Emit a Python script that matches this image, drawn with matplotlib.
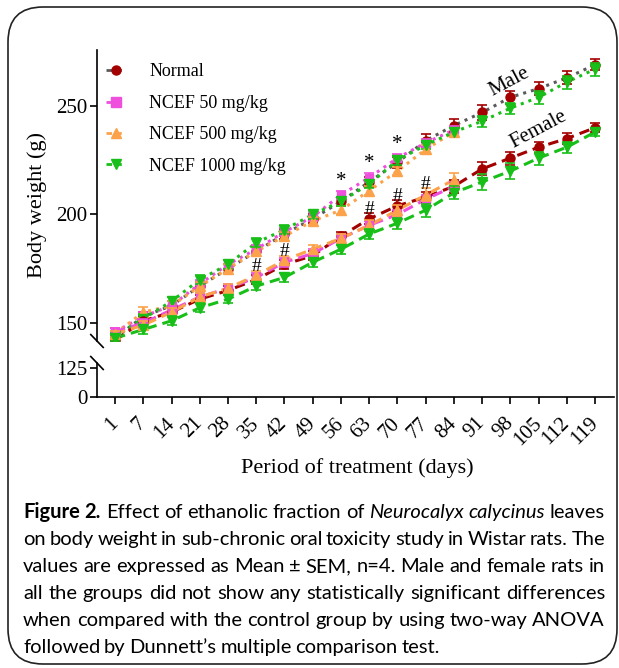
import matplotlib
matplotlib.use("Agg")
import matplotlib.pyplot as plt
import numpy as np
from matplotlib.lines import Line2D
from matplotlib.patches import FancyBboxPatch
from matplotlib.transforms import IdentityTransform

# ---- data ----
days = [1, 7, 14, 21, 28, 35, 42, 49, 56, 63, 70, 77, 84, 91, 98, 105, 112, 119]

male_normal = [143, 153, 158, 167, 175, 183, 191, 198, 206, 215, 224, 234, 241, 247, 254, 258, 263, 269]
male_normal_err = [1.5, 2, 2, 2, 2, 2, 2.5, 2, 2, 2.5, 2.5, 3, 3, 3.5, 3, 3, 3, 2.5]
male_50 = [146, 153, 158, 168, 177, 184, 192, 199, 209, 217, 226, 233, 239]
male_50_err = [1.5, 2, 2, 2, 2, 2, 2, 2, 2, 2, 2, 2, 2]
male_500 = [145, 155, 158, 167, 175, 183, 190, 197, 202, 211, 220, 230, 238]
male_500_err = [1.5, 2.5, 2, 2, 2, 2, 2, 2, 2, 2, 2, 2, 2]
male_1000 = [144, 152, 160, 170, 177, 187, 193, 200, 206, 214, 225, 232, 238, 243, 249, 254, 261, 267]
male_1000_err = [1.5, 2, 2, 2, 2, 2, 2, 2, 2, 2, 2, 2, 2, 2.5, 2.5, 3, 3, 3]

female_normal = [142, 151, 155, 161, 165, 170, 177, 181, 190, 198, 204, 208, 213, 221, 226, 231, 235, 240]
female_normal_err = [1.5, 2, 2, 2, 2, 2, 2, 2, 2, 2.5, 2.5, 2.5, 3, 3, 3, 2.5, 2.5, 2]
female_50 = [146, 150, 156, 162, 166, 171, 178, 182, 189, 195, 200, 207, 213]
female_50_err = [1.5, 2, 2, 2, 2, 2, 2, 2, 2, 2, 2, 2, 2]
female_500 = [145, 149, 155, 162, 166, 172, 179, 184, 189, 195, 202, 209, 216]
female_500_err = [1.5, 2, 2, 2, 2, 2, 2, 2, 2, 2.5, 2.5, 3, 3]
female_1000 = [143, 147, 151, 157, 161, 167, 171, 178, 184, 191, 196, 202, 210, 215, 220, 226, 231, 238]
female_1000_err = [1.5, 2, 2, 2, 2, 2, 2, 2, 2, 2.5, 2.5, 3, 3, 3.5, 3.5, 3, 2.5, 2]

group_labels = ["Normal", "NCEF 50 mg/kg", "NCEF 500 mg/kg", "NCEF 1000 mg/kg"]
star_days = [56, 63, 70]          # '*' above male NCEF 50
hash_days = [35, 42, 63, 70, 77]  # '#' above female groups

caption_lines = [
    [("Figure", "b"), ("2.", "b"), ("Effect", ""), ("of", ""), ("ethanolic", ""), ("fraction", ""),
     ("of", ""), ("Neurocalyx", "i"), ("calycinus", "i"), ("leaves", "")],
    "on body weight in sub-chronic oral toxicity study in Wistar rats. The",
    "values are expressed as Mean \u00b1 SEM, n=4. Male and female rats in",
    "all the groups did not show any statistically significant differences",
    "when compared with the control group by using two-way ANOVA",
    "followed by Dunnett\u2019s multiple comparison test.",
]

# ---- styles ----
SERIF = "Liberation Serif"
CAP_FONT = "Lato"
c_red, c_grey = "#a30000", "#5a5a5a"
c_pink, c_orange, c_green = "#ee4fdc", "#fba24a", "#19bf19"

W, H = 619, 668
fig = plt.figure(figsize=(W / 100, H / 100), dpi=100)
plt.rcParams["font.family"] = SERIF


def fx(px):
    return px / W


def fy(py):
    return 1 - py / H


x_left, x_right = 97, 614
ax = fig.add_axes([fx(x_left), fy(341), fx(x_right - x_left), (341 - 50) / H])
axl = fig.add_axes([fx(x_left), fy(397), fx(x_right - x_left), (397 - 363) / H])

n = len(days)
xlim = (-0.64, n - 1 + 0.67)
for a in (ax, axl):
    a.set_xlim(*xlim)
    for s in ("top", "right"):
        a.spines[s].set_visible(False)
    a.spines["left"].set_linewidth(1.2)
    a.spines["bottom"].set_linewidth(1.2)
    a.tick_params(width=1.2, length=5, labelsize=15, pad=2)

ax.set_ylim(141.7, 275.8)
ax.set_yticks([150, 200, 250])
ax.spines["bottom"].set_visible(False)
ax.set_xticks([])

axl.set_ylim(0, 146.6)
axl.set_yticks([0, 125])
axl.set_xticks(np.arange(n))
axl.set_xticklabels([str(d) for d in days], rotation=45, ha="right",
                    va="center", rotation_mode="anchor")
axl.tick_params(axis="x", pad=12)

# break marks on the y axis
for a, yy, dy in ((ax, 0.0, 0.022), (axl, 1.0, 0.19)):
    a.plot([-0.012, 0.012], [yy + dy, yy - dy],
           transform=a.transAxes, color="black", lw=1.2, clip_on=False)

dash_f = (0, (3.4, 2.0))
series = [
    (male_normal, male_normal_err, c_red, c_grey, "o", ":"),
    (male_50, male_50_err, c_pink, c_pink, "s", ":"),
    (male_500, male_500_err, c_orange, c_orange, "^", ":"),
    (male_1000, male_1000_err, c_green, c_green, "v", ":"),
    (female_normal, female_normal_err, c_red, c_red, "o", dash_f),
    (female_50, female_50_err, c_pink, c_pink, "s", dash_f),
    (female_500, female_500_err, c_orange, c_orange, "^", dash_f),
    (female_1000, female_1000_err, c_green, c_green, "v", dash_f),
]
order = [0, 4, 1, 5, 2, 6, 3, 7]
for k in order:
    vals, err, mc, lc, mk, ls = series[k]
    xs = np.arange(len(vals))
    ax.plot(xs, vals, color=lc, linestyle=ls, lw=2.2, zorder=2 + k * 0.1)
    ax.errorbar(xs, vals, yerr=err, fmt=mk, color=mc, ms=6.5 if mk != "s" else 6,
                mec=mc, mfc=mc, elinewidth=1.2, capsize=3.5, capthick=1.2,
                zorder=3 + k * 0.1)

# significance marks
for d in star_days:
    i = days.index(d)
    top = male_50[i] + male_50_err[i]
    ax.annotate("*", (i, top), xytext=(0, 0), textcoords="offset points",
                ha="center", va="bottom", fontsize=15, zorder=10)
for d in hash_days:
    i = days.index(d)
    top = max(v[i] + e[i] for v, e in ((female_normal, female_normal_err), (female_50, female_50_err),
                                      (female_500, female_500_err), (female_1000, female_1000_err)))
    ax.annotate("#", (i, top), xytext=(0, -3), textcoords="offset points",
                ha="center", va="bottom", fontsize=14, zorder=10)

ax.text(13.96, 261, "Male", rotation=28, ha="center", va="center",
        rotation_mode="anchor", fontsize=15)
ax.text(14.98, 239, "Female", rotation=28, ha="center", va="center",
        rotation_mode="anchor", fontsize=15)

# legend
handles = []
for lab, mc, lc, mk in zip(group_labels, [c_red, c_pink, c_orange, c_green],
                           [c_grey, c_pink, c_orange, c_green], ["o", "s", "^", "v"]):
    handles.append(Line2D([], [], color=lc, lw=2, linestyle=(0, (2, 2.5, 1, 2.5)),
                          marker=mk, ms=6.5, mfc=mc, mec=mc, label=lab))
ax.legend(handles=handles, loc="upper left", bbox_to_anchor=(0.0, 0.985),
          frameon=False, fontsize=13, handlelength=1.15, handletextpad=1.25,
          labelspacing=0.8, borderaxespad=0.3, borderpad=0.2)

fig.text(fx(37), fy(205), "Body weight (g)", rotation=90, ha="center", va="center", fontsize=16)
fig.text(fx(357), fy(468), "Period of treatment (days)", ha="center", va="center", fontsize=16)

# rounded frame
frame = FancyBboxPatch((8 / 100, (H - 664) / 100), (617 - 8) / 100, (664 - 7) / 100,
                       boxstyle="round,pad=0,rounding_size=0.35",
                       transform=fig.dpi_scale_trans, fill=False, lw=1.2,
                       ec="#222222", clip_on=False)
fig.add_artist(frame)

# caption, justified word by word
renderer = fig.canvas.get_renderer()
cap_x0, cap_x1 = 23, 605
base_size = 13.0
space_em = 0.19


def make_words(line):
    if isinstance(line, str):
        return [(w, "") for w in line.split(" ")]
    return line


def word_artists(words, size):
    arts = []
    for w, st in words:
        kw = dict(fontsize=size, family=CAP_FONT, ha="left", va="baseline",
                  transform=IdentityTransform())
        if st == "b":
            kw["weight"] = "bold"
        if st == "i":
            kw["style"] = "italic"
        arts.append(fig.text(0, 0, w, **kw))
    return arts


# find size so the widest justified line fits the text block
probe = []
for line in caption_lines[:-1]:
    arts = word_artists(make_words(line), base_size)
    wsum = sum(a.get_window_extent(renderer).width for a in arts)
    probe.append(wsum + (len(arts) - 1) * base_size * space_em * 100 / 72)
    for a in arts:
        a.remove()
size = base_size * (cap_x1 - cap_x0) / max(probe)

baseline0 = H - 518
for li, line in enumerate(caption_lines):
    words = make_words(line)
    arts = word_artists(words, size)
    widths = [a.get_window_extent(renderer).width for a in arts]
    if li < len(caption_lines) - 1:
        gap = (cap_x1 - cap_x0 - sum(widths)) / (len(arts) - 1)
    else:
        gap = size * space_em * 100 / 72
    x = cap_x0
    y = baseline0 - li * 27
    for a, w in zip(arts, widths):
        a.set_position((x, y))
        x += w + gap

fig.savefig("out.png", dpi=100)
